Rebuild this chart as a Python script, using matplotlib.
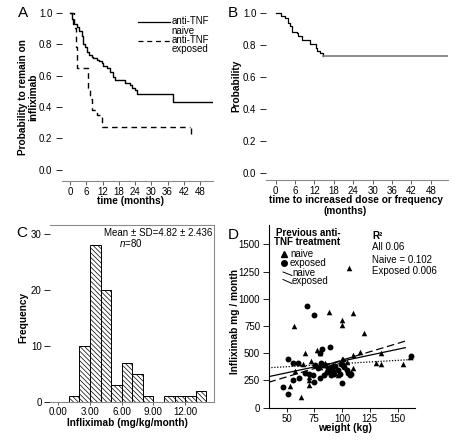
import numpy as np
import matplotlib
matplotlib.use("Agg")
import matplotlib.pyplot as plt
from matplotlib.lines import Line2D

plt.rcParams['font.family'] = ['Liberation Sans', 'DejaVu Sans']
plt.rcParams['mathtext.fontset'] = 'custom'
plt.rcParams['mathtext.rm'] = 'Liberation Sans'
plt.rcParams['mathtext.it'] = 'Liberation Sans:italic'
plt.rcParams['hatch.linewidth'] = 0.5

# ---------------- data ----------------
# Panel A: Kaplan-Meier, probability to remain on infliximab
tA_naive = [0, 0.6, 1.2, 2.5, 3.1, 4.3, 4.9, 5.5, 6.2, 6.8, 8.0, 8.6, 9.8, 10.5, 11.7,
            12.3, 13.5, 14.8, 16.0, 16.6, 20.3, 22.2, 22.8, 24.0, 24.6, 37.9, 53.0]
pA_naive = [1.0, 0.96, 0.93, 0.91, 0.88, 0.85, 0.80, 0.78, 0.75, 0.73, 0.72, 0.71, 0.70, 0.69, 0.68,
            0.66, 0.645, 0.62, 0.59, 0.57, 0.55, 0.54, 0.52, 0.51, 0.48, 0.435, 0.435]
tA_exp = [0, 1.4, 2.0, 2.6, 6.5, 7.2, 8.0, 9.8, 11.7, 44.3]
pA_exp = [1.0, 0.90, 0.78, 0.645, 0.52, 0.45, 0.38, 0.35, 0.27, 0.27]
censor_exp_t = [44.5]
censor_exp_p = [0.25]

# Panel B: time to increased dose or frequency
tB = [0, 1.5, 2.9, 3.9, 4.4, 4.9, 6.5, 7.0, 8.0, 10.5, 12.5, 12.9, 13.7, 14.5]
pB = [1.0, 0.985, 0.97, 0.94, 0.92, 0.885, 0.875, 0.86, 0.83, 0.81, 0.78, 0.765, 0.75, 0.73]
tB_end = 53.3

# Panel C: histogram of infliximab dose (mg/kg/month)
hist_left = [1, 2, 3, 4, 5, 6, 7, 8, 9, 10, 11, 12, 13]
hist_count = [1, 10, 28, 20, 3, 7, 5, 1, 0, 1, 1, 1, 2]

# Panel D: weight vs infliximab mg/month
naive_w = [106, 88, 110, 100, 100, 57, 120, 67, 77, 80, 110, 116, 135, 161, 135, 131, 155,
           53, 63, 70, 70, 70, 61, 65, 101, 110, 58, 80, 85, 92, 104, 72, 88, 96, 108, 100]
naive_v = [1280, 882, 872, 805, 759, 750, 683, 505, 530, 500, 484, 514, 505, 465, 401, 413, 398,
           199, 101, 208, 250, 285, 413, 401, 444, 361, 340, 376, 410, 395, 420, 430, 350, 300, 330, 450]
exp_w = [68, 75, 89, 82, 80, 51, 56, 47, 51, 56, 61, 67, 74, 75, 80, 83, 84, 87, 90, 90, 93, 96,
         100, 101, 104, 105, 107, 81, 78, 70, 86, 94, 98, 102, 108, 76, 60, 92, 85, 99, 162]
exp_v = [937, 851, 554, 536, 499, 450, 413, 193, 122, 254, 269, 321, 300, 239, 269, 392, 300, 361,
         376, 300, 309, 345, 223, 392, 346, 315, 300, 407, 361, 309, 330, 380, 310, 370, 310, 390,
         410, 340, 395, 400, 470]
# regression lines (intercept, slope, x-range)
fit_dash = (129.5, 3.07, 33.7, 157)
fit_solid = (212.0, 2.16, 33.7, 157)
fit_dot = (347.0, 0.583, 33.7, 165.7)

# ---------------- layout helpers ----------------
W, H = 473, 441
fig = plt.figure(figsize=(W / 100, H / 100), dpi=100)
fig.patch.set_facecolor('white')


def rect(l, t, r, b):
    return [l / W, 1 - b / H, (r - l) / W, (b - t) / H]


def ftext(x, y, s, **kw):
    fig.text(x / W, 1 - y / H, s, **kw)


def fline(xs, ys, **kw):
    fig.add_artist(Line2D([x / W for x in xs], [1 - y / H for y in ys], **kw))


GRAY = '#8a8a8a'
FS = 7


def km_axes(ax, xlim, ylim):
    ax.set_xlim(*xlim)
    ax.set_ylim(*ylim)
    for sp in ['left', 'top', 'right']:
        ax.spines[sp].set_visible(False)
    ax.spines['bottom'].set_color(GRAY)
    ax.spines['bottom'].set_linewidth(0.8)
    ax.set_xticks(np.arange(0, 49, 6))
    ax.set_yticks(np.arange(0, 1.01, 0.2))
    ax.set_yticklabels([f"{v:.1f}" for v in np.arange(0, 1.01, 0.2)])
    ax.tick_params(axis='x', length=3, width=0.6, pad=1.5, labelsize=FS, color='#444444')
    ax.tick_params(axis='y', length=4, width=0.6, pad=3, labelsize=FS)
    ax.patch.set_alpha(0)


# ---------------- Panel A ----------------
axA = fig.add_axes(rect(62, 5, 213, 181))
km_axes(axA, (-3, 52.8), (-0.07, 1.048))
axA.step(tA_naive, pA_naive, where='post', color='black', lw=1.0)
axA.step(tA_exp, pA_exp, where='post', color='black', lw=1.0, linestyle=(0, (4, 3)))
axA.plot(censor_exp_t, censor_exp_p, marker='|', color='black', markersize=5, linestyle='none')
# legend
fline([138, 170], [22, 22], color='black', lw=0.9)
fline([138, 170], [40.5, 40.5], color='black', lw=0.9, linestyle=(0, (4, 3)))
ftext(171.5, 21.5, "anti-TNF", fontsize=FS, va='center', ha='left')
ftext(171.5, 30.5, "naive", fontsize=FS, va='center', ha='left')
ftext(171.5, 40, "anti-TNF", fontsize=FS, va='center', ha='left')
ftext(171.5, 49, "exposed", fontsize=FS, va='center', ha='left')
ftext(23, 13, "A", fontsize=11, ha='center', va='center')
ftext(28, 97, "Probability to remain on\ninfliximab", fontsize=7.3, fontweight='bold',
      rotation=90, ha='center', va='center', linespacing=1.1)
ftext(130, 201, "time (months)", fontsize=7.3, fontweight='bold', ha='center', va='center')

# ---------------- Panel B ----------------
axB = fig.add_axes(rect(266, 5, 448, 180))
km_axes(axB, (-3, 53.3), (-0.046, 1.052))
axB.step(tB, pB, where='post', color='black', lw=0.9)
axB.plot([tB[-1], tB_end], [pB[-1], pB[-1]], color='#7a7a7a', lw=1.2)
ftext(233, 13, "B", fontsize=11, ha='center', va='center')
ftext(236, 86, "Probability", fontsize=7.3, fontweight='bold', rotation=90, ha='center', va='center')
ftext(356, 200, "time to increased dose or frequency", fontsize=7.3, fontweight='bold',
      ha='center', va='center')
ftext(345, 211.5, "(months)", fontsize=7.3, fontweight='bold', ha='center', va='center')

# ---------------- Panel C ----------------
axC = fig.add_axes(rect(50, 225, 214, 401.7))
axC.set_xlim(-0.79, 14.74)
axC.set_ylim(0, 31.67)
axC.bar(hist_left, hist_count, width=1.0, align='edge', facecolor='white', edgecolor='black',
        linewidth=0.7, hatch='\\\\\\\\\\\\\\')
axC.spines['left'].set_visible(False)
for sp in ['top', 'right', 'bottom']:
    axC.spines[sp].set_color(GRAY)
    axC.spines[sp].set_linewidth(0.8)
axC.set_xticks([0, 3, 6, 9, 12])
axC.set_xticklabels(["0.00", "3.00", "6.00", "9.00", "12.00"])
axC.set_yticks([0, 10, 20, 30])
axC.tick_params(axis='x', length=2, width=0.6, pad=2, labelsize=FS, color='#444444')
axC.tick_params(axis='y', length=4, width=0.6, pad=2, labelsize=FS)
ftext(212.5, 232.6, "Mean ± SD=4.82 ± 2.436", fontsize=FS, ha='right', va='center')
ftext(131, 243.4, "$n$=80", fontsize=FS, ha='center', va='center')
ftext(22, 233, "C", fontsize=11, ha='center', va='center')
ftext(23, 317, "Frequency", fontsize=7.3, fontweight='bold', rotation=90, ha='center', va='center')
ftext(127, 423, "Infliximab (mg/kg/month)", fontsize=7.3, fontweight='bold', ha='center', va='center')

# ---------------- Panel D ----------------
axD = fig.add_axes(rect(268.5, 225, 415, 407.7))
axD.set_xlim(33.7, 165.7)
axD.set_ylim(0, 1677)
axD.scatter(naive_w, naive_v, marker='^', s=16, color='black', linewidths=0)
axD.scatter(exp_w, exp_v, marker='o', s=18, color='black', linewidths=0)
for (b0, b1, x0, x1), ls in [(fit_dash, (0, (6, 3))), (fit_solid, '-'), (fit_dot, (0, (1, 1.3)))]:
    xs = np.array([x0, x1])
    axD.plot(xs, b0 + b1 * xs, color='black', lw=0.9, linestyle=ls)
for sp in ['top', 'right']:
    axD.spines[sp].set_visible(False)
axD.spines['left'].set_linewidth(0.8)
axD.spines['bottom'].set_linewidth(0.8)
axD.set_xticks([50, 75, 100, 125, 150])
axD.set_yticks([0, 250, 500, 750, 1000, 1250, 1500])
axD.tick_params(axis='x', length=3, width=0.6, pad=1.5, labelsize=FS)
axD.tick_params(axis='y', length=4, width=0.6, pad=2, labelsize=FS)
axD.patch.set_alpha(0)
# legend (manual)
ftext(276, 233, "Previous anti-", fontsize=7, fontweight='bold', ha='left', va='center')
ftext(274, 242, "TNF treatment", fontsize=7, fontweight='bold', ha='left', va='center')
fig.add_artist(Line2D([284 / W], [1 - 254 / H], marker='^', markersize=4, color='black',
                      linestyle='none'))
ftext(290, 254, "naive", fontsize=7, ha='left', va='center')
fig.add_artist(Line2D([284 / W], [1 - 262.5 / H], marker='o', markersize=4, color='black',
                      linestyle='none'))
ftext(290, 262.5, "exposed", fontsize=7, ha='left', va='center')
fline([283, 292], [272, 275.5], color='black', lw=0.7)
ftext(292, 272.5, "naive", fontsize=7, ha='left', va='center')
fline([283, 292], [279.5, 283.5], color='black', lw=0.7)
ftext(292, 281, "exposed", fontsize=7, ha='left', va='center')
# R^2 block
ftext(372, 236, "R²", fontsize=7, fontweight='bold', ha='left', va='center')
ftext(372, 247, "All 0.06", fontsize=7, ha='left', va='center')
ftext(372, 260, "Naive = 0.102", fontsize=7, ha='left', va='center')
ftext(372, 271.5, "Exposed 0.006", fontsize=7, ha='left', va='center')
ftext(233, 235, "D", fontsize=11, ha='center', va='center')
ftext(235, 322, "Infliximab mg / month", fontsize=7.3, fontweight='bold', rotation=90,
      ha='center', va='center')
ftext(345, 428, "weight (kg)", fontsize=7.3, fontweight='bold', ha='center', va='center')

fig.savefig("out.png", dpi=100, facecolor='white')
